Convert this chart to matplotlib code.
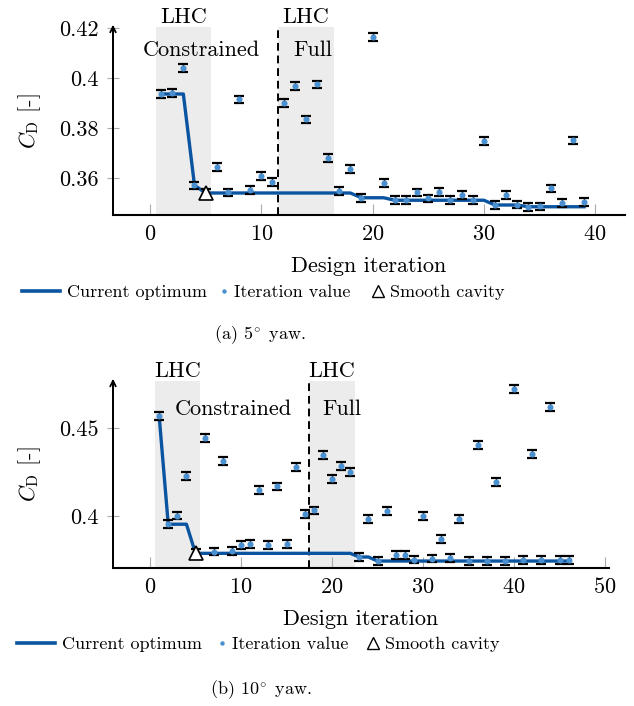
#!/usr/bin/env python
# Drag coefficient convergence of the optimisation at 5 and 10 deg yaw
import numpy as np
import matplotlib
matplotlib.use('Agg')
import matplotlib.pyplot as plt
import matplotlib.transforms as mtransforms
from matplotlib.lines import Line2D
from matplotlib.ticker import FuncFormatter

plt.rcParams['font.family'] = 'cmr10'
plt.rcParams['mathtext.fontset'] = 'cm'
plt.rcParams['axes.formatter.use_mathtext'] = True

# 5 deg yaw
iter_5 = np.arange(1, 40)
cd_5 = [0.3936, 0.3940, 0.4041, 0.3571, 0.3540, 0.3645, 0.3543, 0.3915, 0.3552, 0.3609,
        0.3584, 0.3900, 0.3968, 0.3835, 0.3975, 0.3681, 0.3549, 0.3636, 0.3521, 0.4164,
        0.3580, 0.3511, 0.3511, 0.3543, 0.3519, 0.3544, 0.3512, 0.3531, 0.3511, 0.3748,
        0.3492, 0.3532, 0.3494, 0.3485, 0.3487, 0.3559, 0.3501, 0.3751, 0.3505]
err_5 = 0.0015
smooth_5 = 5
lhc_5 = [(0.5, 5.5), (11.5, 16.5)]
yticks_5 = [0.36, 0.38, 0.40, 0.42]
xticks_5 = [0, 10, 20, 30, 40]

# 10 deg yaw
iter_10 = np.arange(1, 47)
cd_10 = [0.4572, 0.3953, 0.4002, 0.4230, 0.3787, 0.4443, 0.3797, 0.4312, 0.3800, 0.3835,
         0.3842, 0.4148, 0.3835, 0.4169, 0.3842, 0.4279, 0.4010, 0.4032, 0.4348, 0.4213,
         0.4287, 0.4249, 0.3766, 0.3983, 0.3743, 0.4027, 0.3779, 0.3777, 0.3751, 0.3998,
         0.3757, 0.3869, 0.3762, 0.3983, 0.3743, 0.4405, 0.3743, 0.4192, 0.3743, 0.4724,
         0.3748, 0.4353, 0.3748, 0.4620, 0.3748, 0.3750]
err_10 = 0.0022
smooth_10 = 5
lhc_10 = [(0.5, 5.5), (17.5, 22.5)]
yticks_10 = [0.40, 0.45]
xticks_10 = [0, 10, 20, 30, 40, 50]

line_c = '#0a54a0'
pt_c = '#4a90d0'
shade_c = '#ececec'
tick_c = '#aaaaaa'
big = 16
small = 13

fig = plt.figure(figsize=(6.34, 7.06), dpi=100)
ax1 = fig.add_axes([113/634, 1-215/706, 512/634, 188/706])
ax2 = fig.add_axes([113/634, 1-567.7/706, 496/634, 186.7/706])


def draw(ax, it, cd, err, smooth, lhc, xticks, yticks, xlim, ylim, texts):
    cd = np.array(cd)
    opt = np.minimum.accumulate(cd)
    for a, b in lhc:
        ax.axvspan(a, b, color=shade_c, lw=0, zorder=0)
    ax.axvline(lhc[1][0], color='k', ls=(0, (4, 2.5)), lw=1.4, zorder=1)
    ax.plot(it, opt, color=line_c, lw=2.4, zorder=2)
    ax.errorbar(it, cd, yerr=err, fmt='none', ecolor='k', elinewidth=1.0,
                capsize=3.5, capthick=1.6, zorder=3)
    ax.plot(it, cd, 'o', ms=4.4, color=pt_c, mec='none', zorder=4)
    ax.plot(smooth, cd[smooth - 1], '^', ms=10, mfc='white', mec='k', mew=1.2, zorder=5)

    ax.set_xlim(*xlim)
    ax.set_ylim(*ylim)
    ax.set_xticks(xticks)
    ax.set_yticks(yticks)
    ax.yaxis.set_major_formatter(FuncFormatter(lambda v, p: f'{v:g}'))
    ax.tick_params(axis='x', direction='in', length=8, color=tick_c, width=0.8,
                   pad=7, labelsize=big)
    ax.tick_params(axis='y', direction='inout', length=8, color=tick_c, width=0.8,
                   pad=6, labelsize=big)
    for s in ['top', 'right']:
        ax.spines[s].set_visible(False)
    ax.spines['bottom'].set_linewidth(1.5)
    ax.spines['left'].set_linewidth(1.3)
    ax.annotate('', xy=(0, 1.012), xytext=(0, 0), xycoords='axes fraction',
                arrowprops=dict(arrowstyle='->', lw=1.3, color='k', shrinkA=0, shrinkB=0))
    ax.set_xlabel('Design iteration', fontsize=big, labelpad=9)
    ax.set_ylabel(r'$C_\mathrm{D}$ [-]', fontsize=big, labelpad=12)

    trans = mtransforms.blended_transform_factory(ax.transData, ax.transAxes)
    for x, s in texts['top']:
        ax.text(x, 1.021, s, transform=trans, ha='center', va='baseline', fontsize=big)
    for x, y, s in texts['inside']:
        ax.text(x, y, s, ha='center', va='baseline', fontsize=big, zorder=6)


draw(ax1, iter_5, cd_5, err_5, smooth_5, lhc_5, xticks_5, yticks_5,
     (-3.32, 42.68), (0.3452, 0.4204),
     {'top': [(3, 'LHC'), (14, 'LHC')],
      'inside': [(4.6, 0.4090, 'Constrained'), (14.6, 0.4090, 'Full')]})
draw(ax2, iter_10, cd_10, err_10, smooth_10, lhc_10, xticks_10, yticks_10,
     (-4.07, 50.44), (0.3705, 0.4770),
     {'top': [(3, 'LHC'), (20, 'LHC')],
      'inside': [(9.2, 0.4574, 'Constrained'), (21.1, 0.4574, 'Full')]})


def legend_row(y, x_line, x_dot, x_tri):
    em = small * 100 / 72
    kw = dict(loc='center left', frameon=False, borderpad=0, borderaxespad=0,
              fontsize=small)
    fig.legend([Line2D([], [], color=line_c, lw=2.6)], ['Current optimum'],
               bbox_to_anchor=(x_line/634, 1-y/706), handlelength=2.1,
               handletextpad=0.4, **kw)
    fig.legend([Line2D([], [], ls='none', marker='o', ms=3.2, color=pt_c, mec='none')],
               ['Iteration value'], bbox_to_anchor=((x_dot - 0.3*em)/634, 1-y/706),
               handlelength=0.6, handletextpad=0.25, **kw)
    fig.legend([Line2D([], [], ls='none', marker='^', ms=8, mfc='white', mec='k', mew=1.0)],
               ['Smooth cavity'], bbox_to_anchor=((x_tri - 0.4*em)/634, 1-y/706),
               handlelength=0.8, handletextpad=0.25, **kw)


legend_row(292, 22, 224, 378)
legend_row(644, 17, 222, 373)

fig.text(260/634, 1-335/706, r'(a) $5^{\!\circ}$ yaw.', ha='center', va='center', fontsize=small)
fig.text(261/634, 1-690/706, r'(b) $10^{\!\circ}$ yaw.', ha='center', va='center', fontsize=small)

fig.savefig('out.png', dpi=100)
